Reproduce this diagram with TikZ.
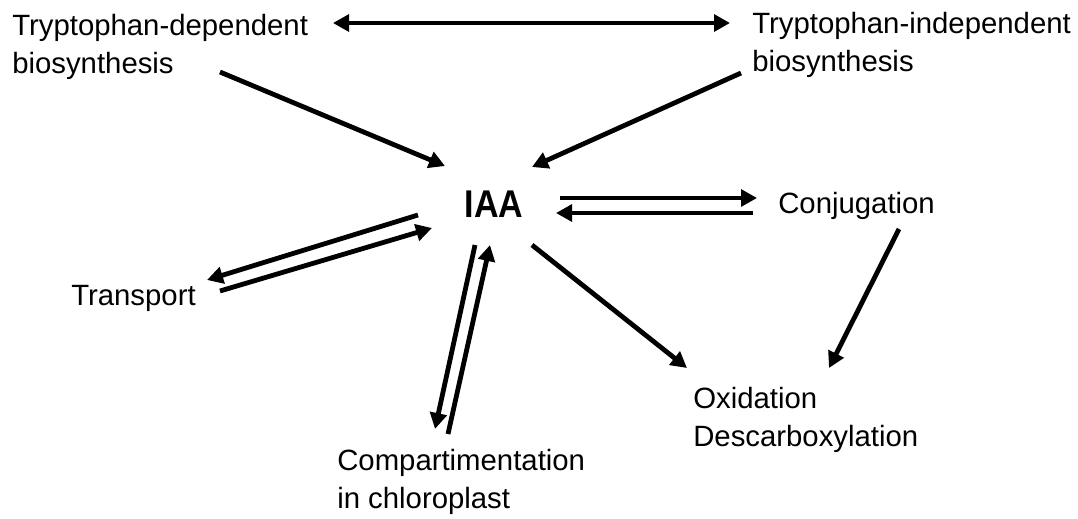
\documentclass[tikz,border=0pt]{standalone}
\usepackage{fontspec}
\setmainfont{Liberation Sans}
\newfontfamily\iaafont[FakeStretch=0.88]{Liberation Sans}
\usepackage{tikz}
\usetikzlibrary{arrows.meta}

\tikzset{
  lbl/.style={anchor=base west, inner sep=0pt, align=left, font=\fontsize{22}{28.5}\selectfont},
  arr/.style={line width=3.6pt, -{Triangle[length=12pt,width=12.5pt]}},
  dblarr/.style={line width=3.6pt, {Triangle[length=12pt,width=12.5pt]}-{Triangle[length=12pt,width=12.5pt]}}
}

\begin{document}
\begin{tikzpicture}[x=0.75pt,y=0.75pt,yscale=-1,xscale=1]
\useasboundingbox (0,0) rectangle (1078,518);

% Text Node (base = last line)
\node[lbl] (tdep) at (12,73) {Tryptophan-dependent\\biosynthesis};
% Text Node
\node[lbl] (tind) at (752,71) {Tryptophan-independent\\biosynthesis};
% Text Node
\node[anchor=base, inner sep=0pt, font=\iaafont\fontsize{29}{32}\selectfont\bfseries] (iaa) at (494,217) {IAA};
% Text Node
\node[lbl] (conj) at (778,213) {Conjugation};
% Text Node
\node[lbl] (trans) at (71,305) {Transport};
% Text Node
\node[lbl] (oxid) at (693,446) {Oxidation\\Descarboxylation};
% Text Node
\node[lbl] (comp) at (337,508) {Compartimentation\\in chloroplast};

% arrow ends
\coordinate (top-l) at (333,23);
\coordinate (top-r) at (730,23);
\coordinate (dep-out) at (220,72);
\coordinate (dep-in) at (445,166);
\coordinate (ind-out) at (741,73);
\coordinate (ind-in) at (532,167);
\coordinate (conj-a1) at (560,198);
\coordinate (conj-a2) at (757,198);
\coordinate (conj-b1) at (753,213);
\coordinate (conj-b2) at (556,213);
\coordinate (trans-a1) at (418,215);
\coordinate (trans-a2) at (207,280);
\coordinate (trans-b1) at (220,291);
\coordinate (trans-b2) at (432,228);
\coordinate (comp-a1) at (475,245);
\coordinate (comp-a2) at (435,429);
\coordinate (comp-b1) at (448,434);
\coordinate (comp-b2) at (490,245);
\coordinate (oxid-a1) at (532,245);
\coordinate (oxid-a2) at (687,368);
\coordinate (conj-out) at (899,229);
\coordinate (oxid-b2) at (829,368);

% Straight Lines
\draw[dblarr] (top-l) -- (top-r);
\draw[arr] (dep-out) -- (dep-in);
\draw[arr] (ind-out) -- (ind-in);
\draw[arr] (conj-a1) -- (conj-a2);
\draw[arr] (conj-b1) -- (conj-b2);
\draw[arr] (trans-a1) -- (trans-a2);
\draw[arr] (trans-b1) -- (trans-b2);
\draw[arr] (comp-a1) -- (comp-a2);
\draw[arr] (comp-b1) -- (comp-b2);
\draw[arr] (oxid-a1) -- (oxid-a2);
\draw[arr] (conj-out) -- (oxid-b2);

\end{tikzpicture}
\end{document}
